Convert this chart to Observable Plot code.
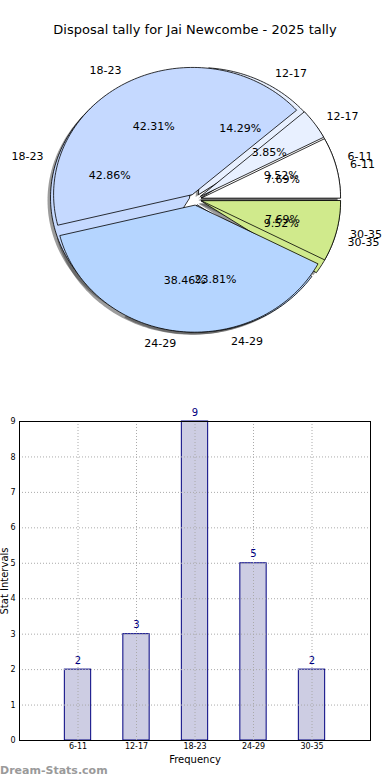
<!DOCTYPE html>
<html><head><meta charset="utf-8">
<script src="https://cdn.jsdelivr.net/npm/d3@7"></script>
<script src="https://cdn.jsdelivr.net/npm/@observablehq/plot@0.6"></script>
<style>
body{margin:0;background:#fff;font-family:"DejaVu Sans",sans-serif;width:390px;height:780px;position:relative;overflow:hidden}
#title{height:50px;box-sizing:border-box;padding-top:22px;font-size:13px;line-height:16px;text-align:center;color:#000}
#wm{position:absolute;left:0;top:764px;font-size:11px;line-height:14px;font-weight:bold;color:#9a9a9a}
svg{display:block}
</style></head><body>
<div id="title">Disposal tally for Jai Newcombe - 2025 tally</div>
<div id="pie"></div>
<div id="bar"></div>
<div id="wm">Dream-Stats.com</div>
<script>
// ---- data ----
const categories = ["6-11", "12-17", "18-23", "24-29", "30-35"];
const barCounts = [2, 3, 9, 5, 2];          // first pie + bar chart
const pieCountsB = [2, 1, 11, 10, 2];       // second (overlaid) pie
const sliceColors = ["#ffffff", "#e8f0ff", "#c5d9ff", "#b5d5ff", "#d0ea8c"];
const yTicks = [0, 1, 2, 3, 4, 5, 6, 7, 8, 9];

// ---- pie geometry from data ----
const explode = 0.045;
function buildPie(counts, pie) {
  const total = d3.sum(counts);
  let start = 0;
  const pts = [], labels = [], pcts = [];
  counts.forEach((c, i) => {
    const frac = c / total;
    const a1 = start * 2 * Math.PI, a2 = (start + frac) * 2 * Math.PI;
    const mid = (a1 + a2) / 2;
    const ox = explode * Math.cos(mid), oy = explode * Math.sin(mid);
    const key = pie + "-" + i;
    pts.push({key, x: ox, y: oy, color: sliceColors[i]});
    const n = Math.max(2, Math.ceil(frac * 240));
    for (let k = 0; k <= n; k++) {
      const a = a1 + (a2 - a1) * k / n;
      pts.push({key, x: ox + Math.cos(a), y: oy + Math.sin(a), color: sliceColors[i]});
    }
    labels.push({x: ox + 1.1 * Math.cos(mid), y: oy + 1.1 * Math.sin(mid), text: categories[i]});
    pcts.push({x: ox + 0.6 * Math.cos(mid), y: oy + 0.6 * Math.sin(mid), text: (frac * 100).toFixed(2) + "%"});
    start += frac;
  });
  return {pts, labels, pcts};
}
const pA = buildPie(barCounts, "A");
const pB = buildPie(pieCountsB, "B");
const allLabels = pA.labels.concat(pB.labels);

const W = 390, PH = 350, cx = 195, cy = 149, rx = 139, ry = 127;
const wedge = (pts) => Plot.line(pts, {x: "x", y: "y", z: "key", fill: "color", stroke: "#000", strokeWidth: 0.8, curve: "linear-closed"});
const shadow = (pts) => Plot.line(pts, {x: "x", y: "y", z: "key", fill: "#3a3a3a", fillOpacity: 0.5, stroke: "none", curve: "linear-closed", dx: -3, dy: 2.5});

const pie = Plot.plot({
  width: W, height: PH, margin: 0,
  x: {domain: [-cx / rx, (W - cx) / rx], range: [0, W], axis: null},
  y: {domain: [-(PH - cy) / ry, cy / ry], range: [PH, 0], axis: null},
  color: {type: "identity"},
  marks: [
    shadow(pA.pts), shadow(pB.pts),
    wedge(pA.pts), wedge(pB.pts),
    Plot.text(allLabels.filter(d => d.x > 0), {x: "x", y: "y", text: "text", textAnchor: "start", fontSize: 11, fill: "#000"}),
    Plot.text(allLabels.filter(d => d.x <= 0), {x: "x", y: "y", text: "text", textAnchor: "end", fontSize: 11, fill: "#000"}),
    Plot.text(pA.pcts, {x: "x", y: "y", text: "text", fontSize: 11, fill: "#000"}),
    Plot.text(pB.pcts, {x: "x", y: "y", text: "text", fontSize: 11, fill: "#000"})
  ]
});
pie.style.fontFamily = "DejaVu Sans, sans-serif";
document.getElementById("pie").appendChild(pie);

// ---- bar chart ----
const barData = categories.map((c, i) => ({pos: i + 1, cat: c, value: barCounts[i]}));
const xPos = barData.map(d => d.pos);
const bar = Plot.plot({
  width: W, height: 366,
  marginTop: 21, marginBottom: 26, marginLeft: 19, marginRight: 20,
  x: {domain: [0, 6], axis: null},
  y: {domain: [0, 9], axis: null},
  marks: [
    Plot.rect(barData, {x1: d => d.pos - 0.225, x2: d => d.pos + 0.225, y1: 0, y2: "value", fill: "#cdcde3", stroke: "#000080", strokeWidth: 1}),
    Plot.gridY(yTicks, {stroke: "#aaa", strokeOpacity: 1, strokeDasharray: "1,2"}),
    Plot.gridX(xPos, {stroke: "#aaa", strokeOpacity: 1, strokeDasharray: "1,2"}),
    Plot.frame({stroke: "#000", strokeWidth: 1}),
    Plot.axisY(yTicks, {tickSize: 0, tickPadding: 4, fontSize: 8, label: null}),
    Plot.axisX(xPos, {tickSize: 0, tickPadding: 3, fontSize: 8, label: null, tickFormat: p => categories[p - 1]}),
    Plot.text(barData, {x: "pos", y: "value", text: d => String(d.value), dy: -9, fill: "#000080", fontSize: 10}),
    Plot.text(["Frequency"], {frameAnchor: "bottom", lineAnchor: "middle", dy: 19, fontSize: 10, fill: "#000"}),
    Plot.text(["Stat Intervals"], {frameAnchor: "left", textAnchor: "middle", lineAnchor: "middle", rotate: -90, dx: -15, fontSize: 10, fill: "#000"})
  ]
});
bar.style.fontFamily = "DejaVu Sans, sans-serif";
document.getElementById("bar").appendChild(bar);
</script>
</body></html>
